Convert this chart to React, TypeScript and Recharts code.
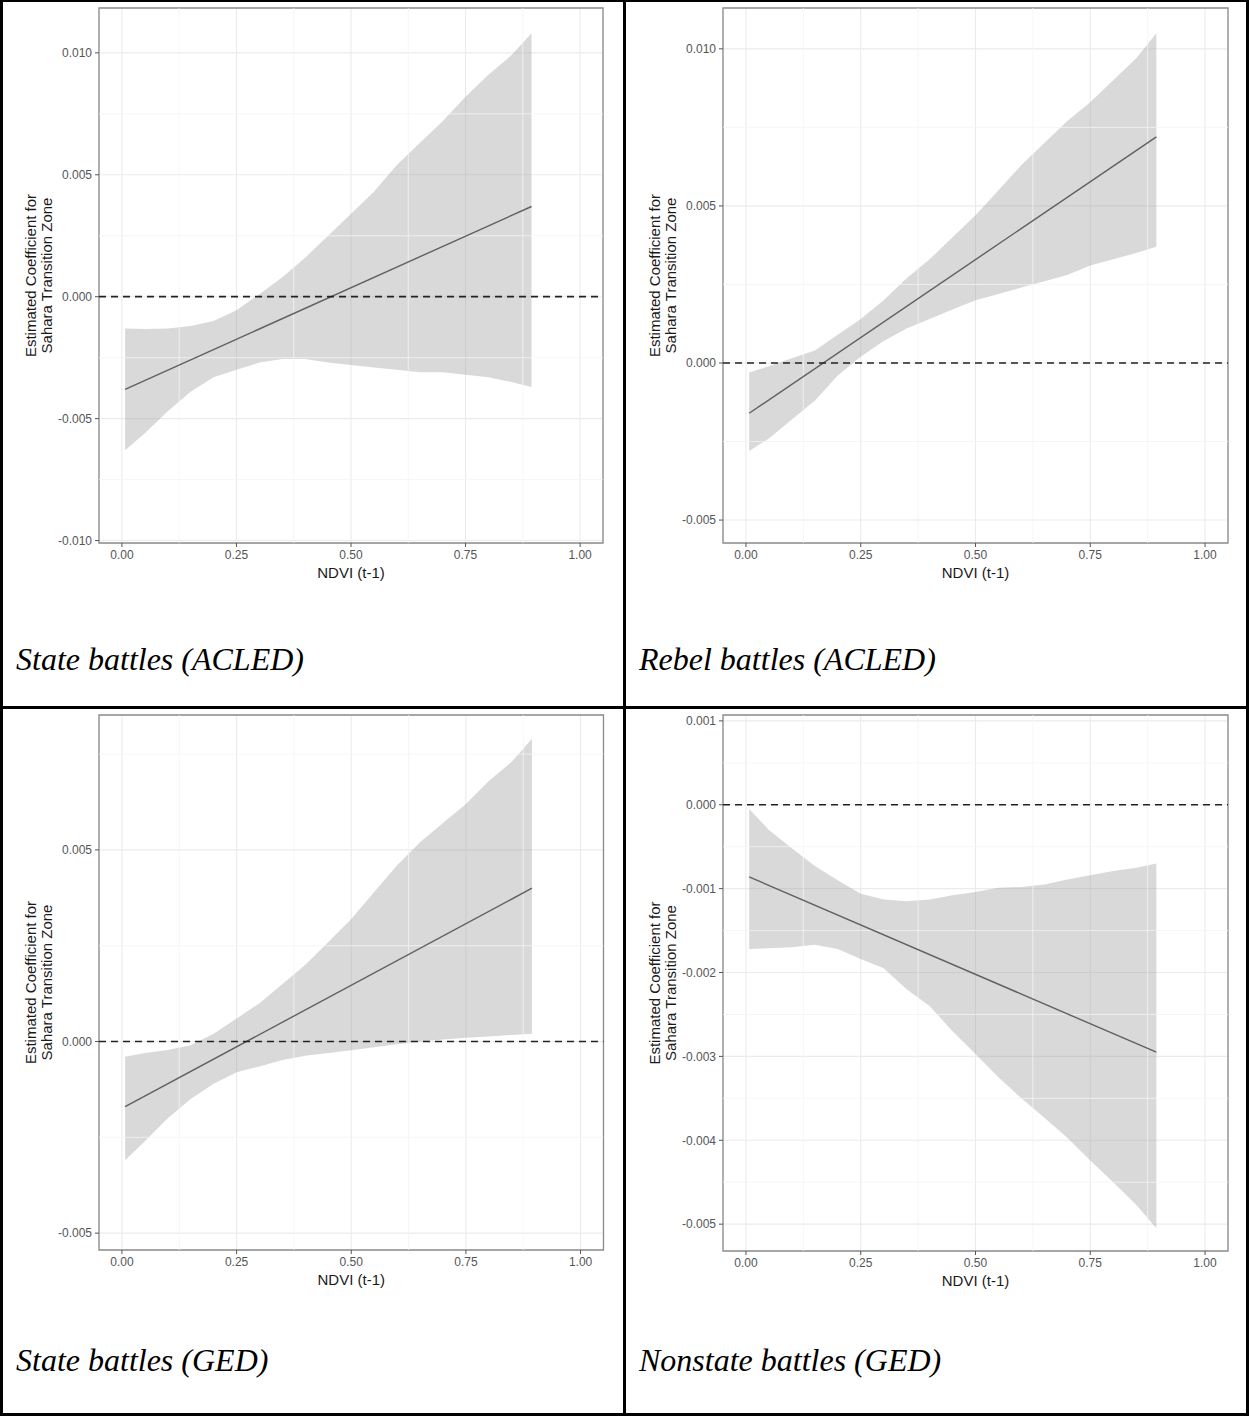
import React from 'react'
import {
  ComposedChart,
  Area,
  Line,
  XAxis,
  YAxis,
  CartesianGrid,
  ReferenceLine,
  ReferenceArea,
} from 'recharts'

// NDVI (t-1) values at which the confidence bands were read
const ndvi = [0.007, 0.05, 0.1, 0.15, 0.2, 0.25, 0.3, 0.35, 0.4, 0.45, 0.5, 0.55, 0.6, 0.65, 0.7, 0.75, 0.8, 0.85, 0.894]
const fitEnds = [0.007, 0.894]

const xTicks = [0, 0.25, 0.5, 0.75, 1]
const xMinor = [0.125, 0.375, 0.625, 0.875]

// State battles (ACLED)
const stateAcledLow = [-0.0063, -0.0056, -0.0047, -0.0039, -0.0033, -0.003, -0.0027, -0.00255, -0.00255, -0.0027, -0.0028, -0.0029, -0.003, -0.0031, -0.0031, -0.0032, -0.0033, -0.0035, -0.0037]
const stateAcledHigh = [-0.0013, -0.00132, -0.0013, -0.0012, -0.001, -0.00055, 0.0001, 0.0008, 0.0016, 0.0025, 0.0034, 0.0043, 0.0054, 0.0063, 0.0072, 0.0082, 0.0091, 0.0099, 0.0108]
const stateAcledFit = [-0.0038, 0.0037]
const stateAcledTicks = [-0.01, -0.005, 0, 0.005, 0.01]
const stateAcledMinor = [-0.0075, -0.0025, 0.0025, 0.0075]

// Rebel battles (ACLED)
const rebelAcledLow = [-0.0028, -0.0024, -0.0018, -0.0012, -0.0004, 0.0002, 0.0007, 0.0011, 0.0014, 0.0017, 0.002, 0.0022, 0.0024, 0.0026, 0.0028, 0.0031, 0.0033, 0.0035, 0.0037]
const rebelAcledHigh = [-0.0003, -0.0001, 0.00015, 0.0004, 0.0009, 0.0014, 0.002, 0.0027, 0.0033, 0.004, 0.0047, 0.0055, 0.0063, 0.007, 0.0077, 0.0083, 0.009, 0.0097, 0.0105]
const rebelAcledFit = [-0.0016, 0.0072]
const rebelAcledTicks = [-0.005, 0, 0.005, 0.01]
const rebelAcledMinor = [-0.0025, 0.0025, 0.0075]

// State battles (GED)
const stateGedLow = [-0.0031, -0.0026, -0.002, -0.0015, -0.0011, -0.0008, -0.00065, -0.00048, -0.00037, -0.0003, -0.00023, -0.00015, -0.00007, 0, 0.00005, 0.0001, 0.00013, 0.00017, 0.0002]
const stateGedHigh = [-0.0004, -0.0003, -0.00022, -0.0001, 0.0002, 0.0006, 0.001, 0.0015, 0.002, 0.0026, 0.0032, 0.0039, 0.0046, 0.0052, 0.0057, 0.0062, 0.0068, 0.0073, 0.0079]
const stateGedFit = [-0.0017, 0.004]
const stateGedTicks = [-0.005, 0, 0.005]
const stateGedMinor = [-0.0025, 0.0025, 0.0075]

// Nonstate battles (GED)
const nonstateGedLow = [-0.00172, -0.00171, -0.0017, -0.00167, -0.00172, -0.00184, -0.00195, -0.0022, -0.0024, -0.0027, -0.00297, -0.00325, -0.0035, -0.00373, -0.00397, -0.00424, -0.0045, -0.00477, -0.00505]
const nonstateGedHigh = [-0.00005, -0.0003, -0.00052, -0.00073, -0.0009, -0.00106, -0.00113, -0.00115, -0.00113, -0.00108, -0.00104, -0.00099, -0.00098, -0.00095, -0.00089, -0.00084, -0.00079, -0.00075, -0.0007]
const nonstateGedFit = [-0.00086, -0.00295]
const nonstateGedTicks = [-0.005, -0.004, -0.003, -0.002, -0.001, 0, 0.001]
const nonstateGedMinor = [-0.0045, -0.0035, -0.0025, -0.0015, -0.0005, 0.0005]

const X_DOMAIN: [number, number] = [-0.05, 1.05]
const AXIS_W = 100
const TOP = 8

function YTitle(props: any) {
  const vb = props.viewBox || { x: 0, y: 0, width: AXIS_W, height: 500 }
  const right = vb.x + vb.width
  const cy = vb.y + vb.height / 2
  return (
    <text
      transform={`translate(${right - 63},${cy}) rotate(-90)`}
      textAnchor="middle"
      fill="#1a1a1a"
      fontSize={15}
    >
      <tspan x={0} y={0}>Estimated Coefficient for</tspan>
      <tspan x={0} y={16}>Sahara Transition Zone</tspan>
    </text>
  )
}

interface PanelProps {
  left: number
  top: number
  width: number
  height: number
  low: number[]
  high: number[]
  fit: number[]
  yTicks: number[]
  yMinor: number[]
  yDomain: [number, number]
}

function Panel({ left, top, width, height, low, high, fit, yTicks, yMinor, yDomain }: PanelProps) {
  const band = ndvi.map((x, i) => ({ x, band: [low[i], high[i]] }))
  const line = fitEnds.map((x, i) => ({ x, fit: fit[i] }))
  return (
    <div style={{ position: 'absolute', left: left - AXIS_W, top: top - TOP }}>
      <ComposedChart
        width={AXIS_W + width + 10}
        height={TOP + height + 40}
        data={band}
        margin={{ top: TOP, right: 10, bottom: 5, left: 0 }}
      >
        <CartesianGrid stroke="#EBEBEB" strokeWidth={1.1} />
        {xMinor.map((v) => (
          <ReferenceLine key={'x' + v} x={v} stroke="#F4F4F4" strokeWidth={0.8} />
        ))}
        {yMinor.map((v) => (
          <ReferenceLine key={'y' + v} y={v} stroke="#F4F4F4" strokeWidth={0.8} />
        ))}
        <XAxis
          type="number"
          dataKey="x"
          domain={X_DOMAIN}
          allowDataOverflow
          ticks={xTicks}
          tickFormatter={(v: number) => v.toFixed(2)}
          tick={{ fill: '#555', fontSize: 12 }}
          tickLine={{ stroke: '#555' }}
          tickSize={4}
          tickMargin={3}
          axisLine={false}
          height={35}
          label={{ value: 'NDVI (t-1)', position: 'insideBottom', offset: 0, fill: '#1a1a1a', fontSize: 15 }}
        />
        <YAxis
          type="number"
          domain={yDomain}
          allowDataOverflow
          ticks={yTicks}
          tickFormatter={(v: number) => v.toFixed(3)}
          tick={{ fill: '#555', fontSize: 12 }}
          tickLine={{ stroke: '#555' }}
          tickSize={4}
          tickMargin={3}
          axisLine={false}
          width={AXIS_W}
          label={<YTitle />}
        />
        <Area
          type="linear"
          dataKey="band"
          stroke="none"
          fill="#999999"
          fillOpacity={0.37}
          isAnimationActive={false}
          activeDot={false}
        />
        <Line
          data={line}
          type="linear"
          dataKey="fit"
          stroke="#606060"
          strokeWidth={1.4}
          dot={false}
          activeDot={false}
          isAnimationActive={false}
        />
        <ReferenceLine y={0} stroke="#222" strokeWidth={1.7} strokeDasharray="7 5" />
        <ReferenceArea
          x1={X_DOMAIN[0]}
          x2={X_DOMAIN[1]}
          y1={yDomain[0]}
          y2={yDomain[1]}
          fill="none"
          stroke="#8c8c8c"
          strokeWidth={1.3}
          ifOverflow="visible"
        />
      </ComposedChart>
    </div>
  )
}

const captionStyle: React.CSSProperties = {
  position: 'absolute',
  fontFamily: '"Liberation Serif", "Times New Roman", serif',
  fontStyle: 'italic',
  fontSize: 32,
  lineHeight: '32px',
  color: '#000',
  whiteSpace: 'nowrap',
}

function Rule({ x, y, w, h }: { x: number; y: number; w: number; h: number }) {
  return <div style={{ position: 'absolute', left: x, top: y, width: w, height: h, background: '#000' }} />
}

export default function App() {
  return (
    <div
      style={{
        position: 'absolute',
        left: 0,
        top: 0,
        width: 1249,
        height: 1416,
        background: '#fff',
        fontFamily: '"Liberation Sans", Arial, sans-serif',
        overflow: 'hidden',
      }}
    >
      <Panel left={99.3} top={8.3} width={504} height={535} low={stateAcledLow} high={stateAcledHigh} fit={stateAcledFit} yTicks={stateAcledTicks} yMinor={stateAcledMinor} yDomain={[-0.0101, 0.01184]} />
      <Panel left={723.3} top={8.3} width={505} height={535} low={rebelAcledLow} high={rebelAcledHigh} fit={rebelAcledFit} yTicks={rebelAcledTicks} yMinor={rebelAcledMinor} yDomain={[-0.00573, 0.0113]} />
      <Panel left={99} top={715} width={504.5} height={535} low={stateGedLow} high={stateGedHigh} fit={stateGedFit} yTicks={stateGedTicks} yMinor={stateGedMinor} yDomain={[-0.00544, 0.00852]} />
      <Panel left={723} top={715} width={505} height={536} low={nonstateGedLow} high={nonstateGedHigh} fit={nonstateGedFit} yTicks={nonstateGedTicks} yMinor={nonstateGedMinor} yDomain={[-0.00532, 0.00107]} />

      <div style={{ ...captionStyle, left: 16, top: 643 }}>State battles (ACLED)</div>
      <div style={{ ...captionStyle, left: 639, top: 643 }}>Rebel battles (ACLED)</div>
      <div style={{ ...captionStyle, left: 16, top: 1344 }}>State battles (GED)</div>
      <div style={{ ...captionStyle, left: 639, top: 1344 }}>Nonstate battles (GED)</div>

      <Rule x={0} y={0} w={1249} h={2} />
      <Rule x={0} y={1413} w={1249} h={3} />
      <Rule x={0} y={0} w={3} h={1416} />
      <Rule x={1246} y={0} w={3} h={1416} />
      <Rule x={623} y={0} w={3} h={1416} />
      <Rule x={0} y={706} w={1249} h={3} />
    </div>
  )
}
